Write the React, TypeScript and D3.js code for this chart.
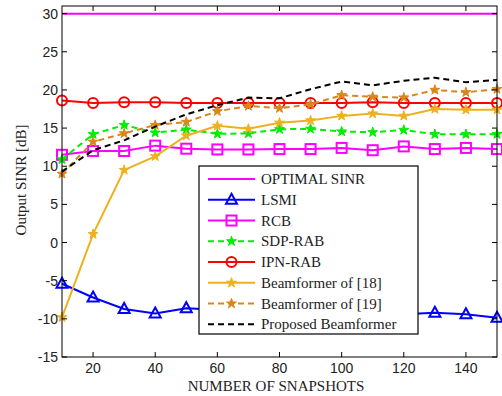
import { useEffect, useRef } from "react";
import * as d3 from "d3";

const snapshots = [10, 20, 30, 40, 50, 60, 70, 80, 90, 100, 110, 120, 130, 140, 150];
const optimal   = [30, 30, 30, 30, 30, 30, 30, 30, 30, 30, 30, 30, 30, 30, 30];
const lsmi      = [-5.4, -7.2, -8.7, -9.3, -8.6, -8.8, -9.0, -9.2, -9.3, -9.4, -9.3, -9.4, -9.2, -9.4, -9.85];
const rcb       = [11.5, 12.0, 12.0, 12.7, 12.3, 12.2, 12.2, 12.25, 12.25, 12.4, 12.1, 12.6, 12.25, 12.4, 12.25];
const sdpRab    = [10.9, 14.2, 15.4, 14.4, 14.8, 14.25, 14.3, 14.85, 14.9, 14.55, 14.45, 14.75, 14.2, 14.2, 14.2];
const ipnRab    = [18.6, 18.3, 18.4, 18.4, 18.3, 18.3, 18.3, 18.3, 18.3, 18.3, 18.4, 18.3, 18.3, 18.3, 18.3];
const bf18      = [-9.8, 1.1, 9.5, 11.3, 14.0, 15.3, 14.9, 15.7, 16.0, 16.6, 16.9, 16.6, 17.5, 17.4, 17.4];
const bf19      = [9.0, 13.2, 14.3, 15.4, 15.8, 17.2, 17.9, 17.6, 18.1, 19.3, 19.1, 19.0, 20.0, 19.7, 20.1];
const proposed  = [9.3, 12.1, 13.4, 15.2, 16.8, 18.0, 19.0, 18.9, 20.1, 21.1, 20.6, 21.2, 21.6, 21.0, 21.3];

const xTicks = [20, 40, 60, 80, 100, 120, 140];
const yTicks = [-15, -10, -5, 0, 5, 10, 15, 20, 25, 30];

type Marker = "none" | "tri" | "square" | "circle" | "star";
const series: { name: string; values: number[]; color: string; dash: boolean; marker: Marker }[] = [
  { name: "OPTIMAL SINR", values: optimal, color: "#FF00FF", dash: false, marker: "none" },
  { name: "LSMI", values: lsmi, color: "#0000FF", dash: false, marker: "tri" },
  { name: "RCB", values: rcb, color: "#FF00FF", dash: false, marker: "square" },
  { name: "SDP-RAB", values: sdpRab, color: "#00EE00", dash: true, marker: "star" },
  { name: "IPN-RAB", values: ipnRab, color: "#FF0000", dash: false, marker: "circle" },
  { name: "Beamformer of [18]", values: bf18, color: "#EDB120", dash: false, marker: "star" },
  { name: "Beamformer of [19]", values: bf19, color: "#D9861C", dash: true, marker: "star" },
  { name: "Proposed Beamformer", values: proposed, color: "#000000", dash: true, marker: "none" },
];

const SERIF = "'Liberation Serif', 'Times New Roman', serif";
const SANS = "'Liberation Sans', Arial, sans-serif";

function drawMarker(g: d3.Selection<SVGGElement, unknown, null, undefined>, m: Marker, cx: number, cy: number, color: string) {
  if (m === "tri") {
    g.append("path").attr("d", `M${cx},${cy - 6}L${cx + 5.5},${cy + 4}L${cx - 5.5},${cy + 4}Z`)
      .attr("fill", "none").attr("stroke", color).attr("stroke-width", 2);
  } else if (m === "square") {
    g.append("rect").attr("x", cx - 5).attr("y", cy - 5).attr("width", 10).attr("height", 10)
      .attr("fill", "none").attr("stroke", color).attr("stroke-width", 2);
  } else if (m === "circle") {
    g.append("circle").attr("cx", cx).attr("cy", cy).attr("r", 5)
      .attr("fill", "none").attr("stroke", color).attr("stroke-width", 2);
  } else if (m === "star") {
    g.append("path").attr("d", d3.symbol(d3.symbolStar, 30)()!)
      .attr("transform", `translate(${cx},${cy})`).attr("fill", color).attr("stroke", color).attr("stroke-width", 1);
  }
}

export default function App() {
  const ref = useRef<SVGSVGElement>(null);

  useEffect(() => {
    if (!ref.current) return;
    const W = 502, H = 396;
    const L = 62, R = 497, T = 6, B = 357;

    const svg = d3.select(ref.current).attr("width", W).attr("height", H);
    svg.selectAll("*").remove();
    svg.append("rect").attr("width", W).attr("height", H).attr("fill", "#fff");

    const x = d3.scaleLinear().domain([10, 150]).range([L, R]);
    const y = d3.scaleLinear().domain([-15, 31]).range([B, T]);

    const plot = svg.append("g");
    plot.append("rect").attr("x", L).attr("y", T).attr("width", R - L).attr("height", B - T).attr("fill", "#fff");

    // lines + markers
    for (const s of series) {
      const line = d3.line<number>().x((_, i) => x(snapshots[i])).y(d => y(d));
      plot.append("path").attr("d", line(s.values)!)
        .attr("fill", "none").attr("stroke", s.color).attr("stroke-width", 2)
        .attr("stroke-dasharray", s.dash ? "6,4" : null);
      const mg = plot.append("g");
      s.values.forEach((v, i) => drawMarker(mg, s.marker, x(snapshots[i]), y(v), s.color));
    }

    // frame + ticks
    const ax = svg.append("g").attr("stroke", "#000").attr("stroke-width", 1);
    ax.append("rect").attr("x", L).attr("y", T).attr("width", R - L).attr("height", B - T).attr("fill", "none");
    for (const t of xTicks) {
      ax.append("line").attr("x1", x(t)).attr("x2", x(t)).attr("y1", B).attr("y2", B - 5);
      ax.append("line").attr("x1", x(t)).attr("x2", x(t)).attr("y1", T).attr("y2", T + 5);
    }
    for (const t of yTicks) {
      ax.append("line").attr("x1", L).attr("x2", L + 5).attr("y1", y(t)).attr("y2", y(t));
      ax.append("line").attr("x1", R).attr("x2", R - 5).attr("y1", y(t)).attr("y2", y(t));
    }

    svg.append("g").selectAll("text").data(xTicks).enter().append("text")
      .attr("x", d => x(d)).attr("y", B + 16).attr("text-anchor", "middle")
      .attr("font-family", SANS).attr("font-size", 14).attr("fill", "#222").text(d => d);
    svg.append("g").selectAll("text").data(yTicks).enter().append("text")
      .attr("x", L - 4).attr("y", d => y(d) + 5).attr("text-anchor", "end")
      .attr("font-family", SANS).attr("font-size", 14).attr("fill", "#222").text(d => d);

    svg.append("text").attr("x", 276).attr("y", 391).attr("text-anchor", "middle")
      .attr("font-family", SERIF).attr("font-size", 15).attr("fill", "#222").text("NUMBER OF SNAPSHOTS");
    svg.append("text").attr("transform", "translate(26,180) rotate(-90)").attr("text-anchor", "middle")
      .attr("font-family", SERIF).attr("font-size", 15).attr("fill", "#222").text("Output SINR [dB]");

    // legend
    const lg = svg.append("g");
    lg.append("rect").attr("x", 199).attr("y", 166).attr("width", 219).attr("height", 168)
      .attr("fill", "#fff").attr("stroke", "#000").attr("stroke-width", 1.2);
    series.forEach((s, i) => {
      const yy = 179 + i * 20.76;
      lg.append("line").attr("x1", 208).attr("x2", 255).attr("y1", yy).attr("y2", yy)
        .attr("stroke", s.color).attr("stroke-width", 2).attr("stroke-dasharray", s.dash ? "6,4" : null);
      drawMarker(lg, s.marker, 231.5, yy, s.color);
      lg.append("text").attr("x", 261).attr("y", yy + 5).attr("font-family", SERIF).attr("font-size", 15)
        .attr("fill", "#222").text(s.name);
    });
  }, []);

  return <svg ref={ref} style={{ position: "absolute", left: 0, top: 0 }} />;
}
